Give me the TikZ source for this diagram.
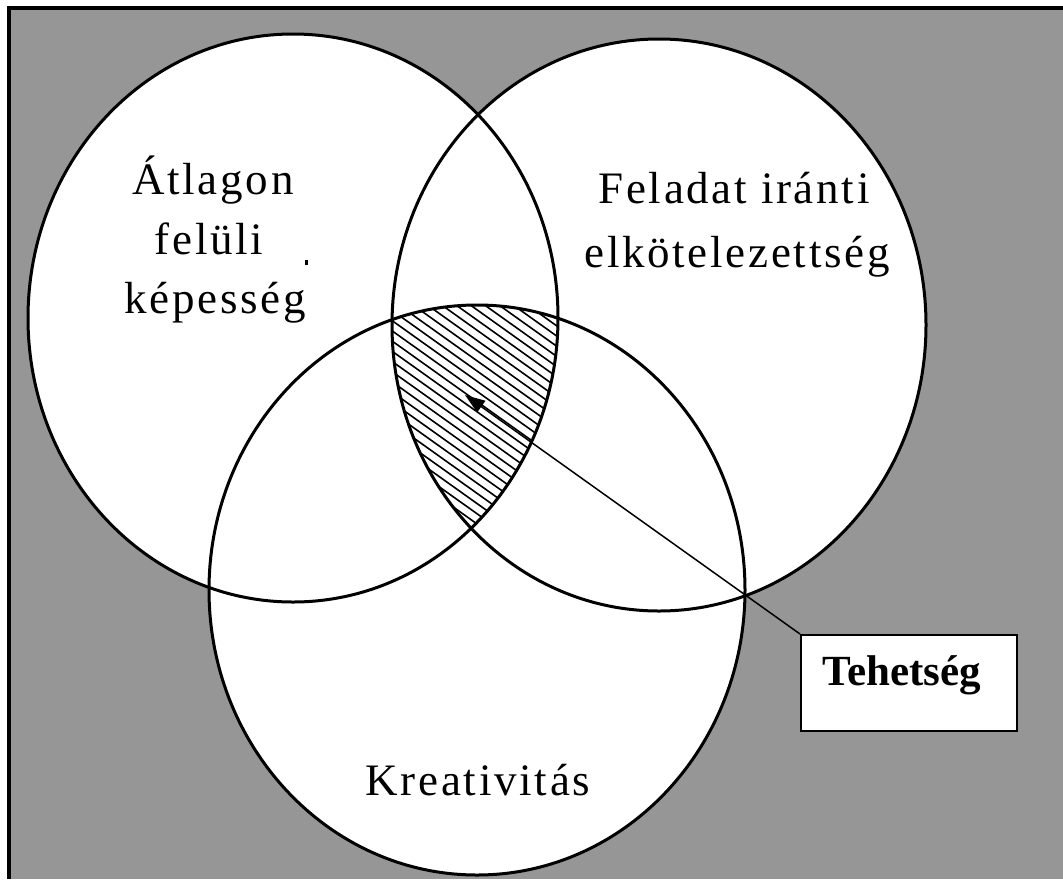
\documentclass[tikz,border=0pt]{standalone}
\usepackage{fontspec}
\setmainfont{Liberation Serif}
\newfontfamily\labfont[LetterSpace=6]{Liberation Serif}
\usetikzlibrary{arrows.meta}
\definecolor{bggray}{RGB}{150,150,150}
\begin{document}
\begin{tikzpicture}[x=1pt,y=-1pt,
  ring/.style={draw=black, line width=3pt},
  hatchline/.style={draw=black, line width=1.6pt},
  lab/.style={font=\labfont\fontsize{45}{50}\selectfont, anchor=base, inner sep=0pt},
  tbox/.style={draw=black, line width=2pt, fill=white, minimum width=216pt, minimum height=96pt, inner sep=0pt, anchor=north west},
  tlab/.style={font=\bfseries\fontsize{43}{50}\selectfont, anchor=base, inner sep=0pt},
  pointer/.style={draw=black, line width=1.5pt, -{Triangle[length=20pt,width=14pt]}}]
\useasboundingbox (0,0) rectangle (1063,879);
\fill[white] (0,0) rectangle (1063,879);
\fill[bggray] (9,8) rectangle (1063,879);
\draw[line width=4pt] (7,8) -- (1063,8);
\draw[line width=3.5pt] (9,6) -- (9,879);
% white discs
\fill[white] (293,318) ellipse [x radius=265pt, y radius=284pt];
\fill[white] (659,325) ellipse [x radius=267pt, y radius=286pt];
\fill[white] (477,590) ellipse [x radius=268pt, y radius=285pt];
% hatch of common area
\begin{scope}
  \clip (293,318) ellipse [x radius=265pt, y radius=284pt];
  \clip (659,325) ellipse [x radius=267pt, y radius=286pt];
  \clip (477,590) ellipse [x radius=268pt, y radius=285pt];
  \foreach \k in {-26,...,14}
    \draw[hatchline] ({410+14.3*\k-300},{313-213.9}) -- ({410+14.3*\k+300},{313+213.9});
\end{scope}
% outlines
\draw[ring] (293,318) ellipse [x radius=265pt, y radius=284pt];
\draw[ring] (659,325) ellipse [x radius=267pt, y radius=286pt];
\draw[ring] (477,590) ellipse [x radius=268pt, y radius=285pt];
% labels
\node[lab] (a1) at (213,194) {Átlagon};
\node[lab] (a2) at (209,254) {felüli};
\node[lab] (a3) at (215,313) {képesség};
\fill (305,260) rectangle (308,265);
\node[lab] (f1) at (734,203) {Feladat iránti};
\node[lab] (f2) at (737,267) {elkötelezettség};
\node[lab] (k1) at (478,795) {Kreativitás};
% Tehetség box
\node[tbox] (box) at (800,634) {};
\node[tlab] (t1) at (902,685) {Tehetség};
\coordinate (tip) at (465,395);
\draw[pointer] (box.north west) -- (tip);
\end{tikzpicture}
\end{document}
